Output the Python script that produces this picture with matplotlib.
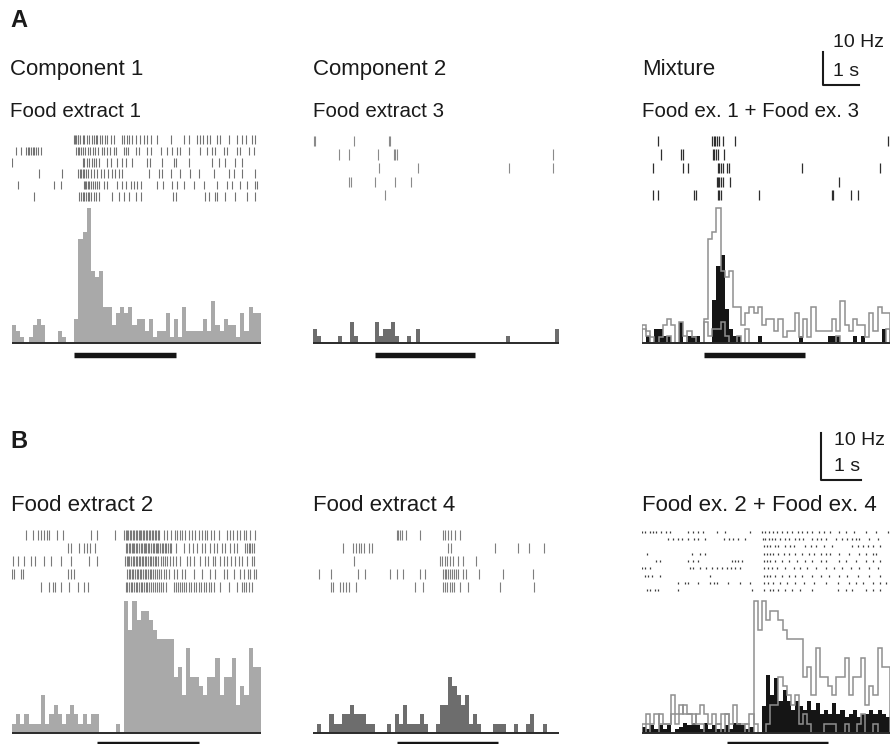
import numpy as np
import matplotlib
matplotlib.use('Agg')
import matplotlib.pyplot as plt
from matplotlib.lines import Line2D

plt.rcParams['font.family'] = ['Liberation Sans', 'DejaVu Sans']

W, H = 893, 744

# time windows (s) and stimulus epochs
T0_A, T0_B = -1.5, -2.0
WIN = 6.0
STIM_A = (0.0, 2.45)
STIM_B = (0.05, 2.5)

# PSTH firing rates (Hz), 60 bins of 0.1 s
psth_a1 = [5.4, 3.6, 1.8, 0, 1.8, 5.4, 7.2, 5.4, 0, 0,
           0, 3.6, 1.8, 0, 0, 7.2, 31.6, 33.6, 41.0, 21.8,
           20.0, 21.8, 10.9, 10.9, 5.4, 9.0, 10.9, 9.0, 10.9, 5.4,
           7.2, 7.2, 3.6, 7.2, 1.8, 3.6, 3.6, 9.0, 1.8, 7.2,
           1.8, 10.9, 3.6, 3.6, 3.6, 3.6, 7.2, 3.6, 12.7, 5.4,
           3.6, 7.2, 5.4, 5.4, 1.8, 9.0, 3.6, 10.9, 9.0, 9.0]
psth_a2 = [4.2, 2.1, 0, 0, 0, 0, 2.1, 0, 0, 6.4,
           2.1, 0, 0, 0, 0, 6.4, 2.1, 4.2, 4.2, 6.4,
           2.1, 0, 0, 2.1, 0, 4.2, 0, 0, 0, 0,
           0, 0, 0, 0, 0, 0, 0, 0, 0, 0,
           0, 0, 0, 0, 0, 0, 0, 2.1, 0, 0,
           0, 0, 0, 0, 0, 0, 0, 0, 0, 4.2]
psth_a3 = [0, 2.1, 0, 4.2, 4.2, 2.1, 2.1, 0, 0, 6.4,
           0, 2.1, 2.1, 2.1, 0, 0, 0, 12.9, 23.3, 26.6,
           10.4, 4.2, 2.1, 2.1, 0, 0, 0, 0, 2.1, 0,
           0, 0, 0, 0, 0, 0, 0, 0, 2.1, 0,
           0, 0, 0, 0, 0, 2.1, 2.1, 2.1, 0, 0,
           0, 2.1, 0, 2.1, 0, 0, 0, 0, 4.2, 0]
psth_b1 = [2, 4, 2, 4, 2, 2, 2, 8, 2, 4,
           6, 4, 2, 4, 6, 4, 2, 4, 2, 4,
           4, 0, 0, 0, 0, 2, 0, 28, 22, 28,
           24, 26, 26, 24, 22, 20, 20, 20, 20, 12,
           14, 8, 18, 12, 12, 10, 8, 12, 12, 16,
           8, 12, 12, 16, 6, 10, 8, 18, 14, 14]
psth_b2 = [0, 2, 0, 0, 4, 2, 2, 4, 4, 6,
           4, 4, 4, 2, 2, 0, 0, 0, 2, 0,
           4, 2, 6, 2, 2, 2, 4, 2, 0, 0,
           2, 6, 6, 12, 10, 8, 6, 8, 2, 4,
           2, 0, 0, 0, 2, 2, 2, 0, 0, 2,
           0, 0, 2, 4, 0, 0, 2, 0, 0, 0]
psth_b3 = [1.3, 0.9, 1.6, 0.9, 1.6, 0.9, 1.6, 0, 0.9, 1.3,
           2.1, 1.6, 2.1, 1.6, 0.9, 2.1, 0.9, 1.6, 0.9, 0.9,
           1.6, 0.9, 2.1, 2.1, 1.6, 0.9, 1.3, 0, 0, 5.7,
           12.4, 8.0, 11.6, 6.9, 9.2, 6.9, 4.8, 6.9, 5.7, 4.8,
           6.9, 4.8, 6.4, 4.1, 4.8, 4.1, 6.4, 4.1, 4.8, 3.4,
           4.1, 4.8, 3.4, 4.1, 4.1, 4.8, 4.1, 4.8, 4.1, 3.4]

# spike times (s), one list per trial
raster_a1 = [
    [0.00, 0.03, 0.05, 0.08, 0.10, 0.15, 0.20, 0.24, 0.31, 0.36, 0.42, 0.47, 0.52, 0.56, 0.63,
     0.68, 0.75, 0.80, 0.88, 0.95, 1.14, 1.20, 1.27, 1.32, 1.40, 1.48, 1.59, 1.67, 1.76, 1.84,
     1.99, 2.32, 2.64, 2.76, 2.95, 3.03, 3.11, 3.19, 3.27, 3.44, 3.52, 3.72, 3.91, 4.04, 4.15,
     4.28, 4.36],
    [-1.40, -1.28, -1.16, -1.12, -1.08, -1.04, -1.00, -0.96, -0.92, -0.88, -0.80, 0.04, 0.08,
     0.12, 0.16, 0.20, 0.26, 0.32, 0.39, 0.44, 0.50, 0.58, 0.66, 0.72, 0.80, 0.87, 0.95, 1.00,
     1.19, 1.24, 1.30, 1.48, 1.56, 1.75, 1.86, 2.08, 2.24, 2.36, 2.48, 2.56, 2.76, 3.04, 3.20,
     3.31, 3.40, 3.62, 3.68, 3.92, 4.00, 4.20, 4.32],
    [-1.50, 0.20, 0.24, 0.31, 0.35, 0.42, 0.47, 0.52, 0.60, 0.80, 0.88, 1.04, 1.16, 1.24, 1.38,
     1.76, 1.83, 2.12, 2.40, 2.44, 2.76, 3.32, 3.48, 3.64, 3.88, 4.04],
    [-0.84, -0.30, 0.10, 0.13, 0.16, 0.20, 0.24, 0.29, 0.34, 0.40, 0.47, 0.55, 0.64, 0.72, 0.82,
     0.90, 0.98, 1.08, 1.16, 1.80, 2.04, 2.12, 2.32, 2.56, 2.80, 3.00, 3.36, 3.72, 3.84, 4.04,
     4.36],
    [-1.36, -0.48, -0.32, 0.23, 0.26, 0.29, 0.32, 0.36, 0.40, 0.44, 0.50, 0.55, 0.60, 0.71, 0.79,
     1.04, 1.16, 1.24, 1.36, 1.43, 1.52, 1.60, 2.00, 2.15, 2.36, 2.48, 2.64, 2.88, 3.12, 3.44,
     3.68, 3.80, 4.00, 4.16, 4.36, 4.40],
    [-0.96, 0.12, 0.16, 0.20, 0.24, 0.28, 0.32, 0.36, 0.40, 0.47, 0.52, 0.60, 0.92, 1.08, 1.20,
     1.32, 1.48, 1.60, 2.39, 2.44, 3.16, 3.24, 3.40, 3.44, 3.64, 3.88, 4.16, 4.36],
]
raster_a2 = [
    [-1.48, -1.46, -0.49, 0.35, 0.37],
    [-0.87, -0.61, 0.09, 0.47, 0.51, 0.55, 4.35],
    [0.10, 1.05, 3.27, 4.35],
    [-0.61, -0.57, 0.02, 0.51, 0.89],
    [0.25],
]
raster_a3 = [
    [-1.11, 0.20, 0.23, 0.26, 0.31, 0.37, 0.45, 0.76, 4.45],
    [-1.03, -0.55, -0.51, 0.21, 0.24, 0.28, 0.33, 0.49],
    [-1.23, -0.51, -0.39, 0.33, 0.37, 0.41, 0.45, 0.55, 0.60, 2.36, 4.25],
    [0.31, 0.34, 0.37, 0.41, 0.45, 0.63, 3.27],
    [-1.23, -1.11, -0.23, -0.20, 0.33, 0.37, 0.41, 1.33, 3.09, 3.13, 3.56, 3.73],
]
raster_b1 = [
    [-1.66, -1.50, -1.38, -1.30, -1.22, -1.15, -1.10, -0.91, -0.78, -0.10, 0.05, 0.48,
     0.70, 0.74, 0.77, 0.80, 0.84, 0.87, 0.91, 0.94, 0.98, 1.01, 1.05, 1.08, 1.12, 1.15, 1.19,
     1.22, 1.26, 1.29, 1.33, 1.37, 1.40, 1.44, 1.48, 1.52, 1.55, 1.66, 1.74, 1.84, 1.92, 1.98,
     2.06, 2.10, 2.16, 2.26, 2.34, 2.42, 2.50, 2.58, 2.64, 2.70, 2.80, 2.86, 2.98, 3.18, 3.25,
     3.33, 3.41, 3.50, 3.58, 3.65, 3.74, 3.86],
    [-0.66, -0.59, -0.38, -0.27, -0.19, -0.11, 0.00, 0.74, 0.78, 0.81, 0.85, 0.88, 0.92, 0.95,
     0.99, 1.02, 1.06, 1.10, 1.13, 1.17, 1.20, 1.24, 1.28, 1.31, 1.35, 1.39, 1.42, 1.46, 1.50,
     1.53, 1.57, 1.61, 1.64, 1.68, 1.72, 1.76, 1.80, 1.84, 1.94, 2.14, 2.26, 2.37, 2.46, 2.58,
     2.66, 2.77, 2.86, 2.94, 3.06, 3.14, 3.25, 3.34, 3.42, 3.62, 3.66, 3.70, 3.74, 3.78, 3.82],
    [-1.98, -1.86, -1.70, -1.54, -1.44, -1.23, -1.06, -0.83, -0.59, -0.14, 0.06, 0.72, 0.76,
     0.80, 0.83, 0.87, 0.91, 0.94, 0.98, 1.02, 1.05, 1.09, 1.13, 1.16, 1.20, 1.24, 1.28, 1.32,
     1.36, 1.40, 1.44, 1.48, 1.53, 1.58, 1.63, 1.68, 1.74, 1.80, 1.88, 1.96, 2.04, 2.22, 2.29,
     2.38, 2.54, 2.66, 2.72, 2.85, 2.90, 3.02, 3.12, 3.18, 3.28, 3.38, 3.46, 3.54, 3.66, 3.78,
     3.82],
    [-2.00, -1.95, -1.79, -1.74, -0.66, -0.59, -0.51, 0.77, 0.81, 0.85, 0.88, 0.92, 0.96, 1.00,
     1.04, 1.08, 1.12, 1.16, 1.20, 1.24, 1.28, 1.32, 1.36, 1.40, 1.45, 1.50, 1.55, 1.60, 1.66,
     1.72, 1.78, 1.90, 1.98, 2.10, 2.16, 2.38, 2.58, 2.78, 2.90, 3.10, 3.18, 3.34, 3.50, 3.60,
     3.68, 3.74, 3.82, 3.89],
    [-1.30, -1.10, -1.02, -0.96, -0.83, -0.62, -0.42, -0.27, -0.16, 0.74, 0.78, 0.82, 0.86,
     0.90, 0.94, 0.98, 1.02, 1.06, 1.10, 1.14, 1.18, 1.22, 1.26, 1.30, 1.35, 1.40, 1.45, 1.50,
     1.55, 1.60, 1.65, 1.70, 1.90, 1.95, 2.00, 2.05, 2.10, 2.15, 2.20, 2.26, 2.32, 2.38, 2.44,
     2.50, 2.56, 2.62, 2.68, 2.74, 2.80, 2.86, 3.02, 3.22, 3.42, 3.54, 3.60, 3.65, 3.70, 3.78],
]
raster_b2 = [
    [0.04, 0.08, 0.12, 0.16, 0.28, 0.62, 1.17, 1.22, 1.29, 1.37, 1.46, 1.59],
    [-1.28, -1.03, -0.95, -0.87, -0.82, -0.75, -0.63, -0.57, 1.29, 1.37, 2.43, 3.00, 3.26, 3.64],
    [-1.00, 1.09, 1.15, 1.21, 1.27, 1.33, 1.41, 1.54, 1.66, 1.98],
    [-1.85, -1.57, -0.90, -0.73, -0.13, 0.04, 0.20, 0.60, 0.72, 1.17, 1.21, 1.25, 1.29, 1.33,
     1.38, 1.43, 1.48, 1.54, 1.66, 1.74, 2.06, 2.63, 3.36],
    [-1.57, -1.51, -1.34, -1.26, -1.20, -1.12, -0.94, 0.48, 0.68, 1.17, 1.21, 1.27, 1.33, 1.40,
     1.45, 1.58, 1.78, 2.55, 3.40],
]
raster_b3 = [
    [-1.99, -1.93, -1.81, -1.73, -1.65, -1.53, -1.41, -1.33, -0.88, -0.76, -0.64, -0.52, -0.19,
     0.01, 0.62, 0.90, 0.98, 1.08, 1.18, 1.26, 1.39, 1.51, 1.63, 1.77, 1.87, 2.00, 2.12, 2.28,
     2.40, 2.56, 2.77, 2.93, 3.14, 3.42, 3.67, 3.95],
    [-1.37, -1.25, -1.14, -1.04, -0.88, -0.74, -0.64, -0.48, -0.01, 0.11, 0.21, 0.32, 0.50,
     0.92, 0.98, 1.08, 1.14, 1.22, 1.34, 1.45, 1.55, 1.71, 1.79, 1.89, 2.12, 2.24, 2.32, 2.44,
     2.69, 2.85, 2.97, 3.09, 3.18, 3.26, 3.50, 3.71],
    [0.94, 1.02, 1.10, 1.22, 1.30, 1.47, 1.59, 1.67, 1.95, 2.08, 2.20, 2.40, 2.60, 3.09, 3.22,
     3.34, 3.46, 3.58, 3.75],
    [-1.89, -0.80, -0.60, -0.48, 0.94, 1.02, 1.10, 1.18, 1.30, 1.43, 1.55, 1.71, 1.87, 2.04,
     2.16, 2.32, 2.44, 2.56, 2.77, 3.01, 3.26, 3.42, 3.58, 3.67],
    [-1.65, -1.57, -0.88, -0.76, -0.64, 0.17, 0.25, 0.33, 0.43, 0.94, 1.02, 1.10, 1.22, 1.39,
     1.55, 1.75, 1.95, 2.12, 2.32, 2.44, 2.77, 2.93, 3.18, 3.42, 3.58, 3.75],
    [-1.99, -1.93, -1.81, -0.84, -0.76, -0.60, -0.44, -0.31, -0.19, -0.07, 0.05, 0.16, 0.25,
     0.37, 0.94, 1.06, 1.14, 1.26, 1.47, 1.67, 1.83, 2.00, 2.20, 2.44, 2.65, 2.85, 3.05, 3.26,
     3.50, 3.71],
    [-1.93, -1.85, -1.77, -1.57, -0.36, 0.94, 1.02, 1.10, 1.22, 1.39, 1.55, 1.71, 1.87, 2.12,
     2.32, 2.52, 2.77, 2.97, 3.22, 3.50, 3.75],
    [-1.13, -0.96, -0.88, -0.64, -0.36, -0.27, -0.19, 0.09, 0.37, 0.62, 0.94, 1.06, 1.18, 1.34,
     1.51, 1.71, 1.91, 2.16, 2.44, 2.73, 3.01, 3.18, 3.34, 3.58, 3.75, 3.91],
    [-1.89, -1.81, -1.69, -1.61, -1.13, 0.66, 0.94, 1.10, 1.18, 1.30, 1.47, 1.63, 1.83, 2.12,
     2.73, 2.93, 3.09, 3.42, 3.58, 3.75],
]

COLS = [(12, 261), (313, 559), (642, 890)]
LIGHT = '#a9a9a9'
DARK = '#6d6d6d'
BLACK = '#151515'
OUTLINE = '#8f8f8f'


def px_box(x0, y0, x1, y1):
    return [x0 / W, 1 - y1 / H, (x1 - x0) / W, (y1 - y0) / H]


def draw_raster(fig, col, y0, y1, t0, trials, color, length, lw):
    x0, x1 = COLS[col]
    ax = fig.add_axes(px_box(x0, y0, x1, y1))
    n = len(trials)
    ax.eventplot(trials, lineoffsets=np.arange(1, n + 1), linelengths=length,
                 colors=color, linewidths=lw)
    ax.set_xlim(t0, t0 + WIN)
    ax.set_ylim(n + 0.5, 0.5)
    ax.set_axis_off()
    return ax


def draw_psth(fig, col, base_y, t0, px_per_hz, stim, stim_gap, fills, outlines=()):
    x0, x1 = COLS[col]
    top = base_y - 165
    ax = fig.add_axes(px_box(x0, top, x1, base_y + 16))
    edges = t0 + 0.1 * np.arange(61)
    for vals, c in fills:
        ax.stairs(vals, edges, fill=True, color=c, lw=0)
    for vals in outlines:
        ax.stairs(vals, edges, baseline=0, color=OUTLINE, lw=1.1)
    ax.axhline(0, color='#2a2a2a', lw=1.4)
    ax.hlines(-stim_gap / px_per_hz, stim[0], stim[1], color=BLACK, lw=3.9, clip_on=False)
    ax.set_xlim(t0, t0 + WIN)
    ax.set_ylim(-16 / px_per_hz, 165 / px_per_hz)
    ax.set_axis_off()
    return ax


fig = plt.figure(figsize=(W / 100, H / 100), dpi=100)

# --- panel A ---
draw_raster(fig, 0, 134, 202, T0_A, raster_a1, '#727272', 0.75, 0.8)
draw_raster(fig, 1, 134, 202, T0_A, raster_a2, '#8a8a8a', 0.75, 0.8)
draw_raster(fig, 2, 134, 202, T0_A, raster_a3, '#2e2e2e', 0.75, 0.9)
PX_A = 3.3
draw_psth(fig, 0, 343, T0_A, PX_A, STIM_A, 12, [(psth_a1, LIGHT)])
draw_psth(fig, 1, 343, T0_A, PX_A, STIM_A, 12, [(psth_a2, DARK)])
draw_psth(fig, 2, 343, T0_A, PX_A, STIM_A, 12, [(psth_a3, BLACK)], [psth_a1, psth_a2])

# --- panel B ---
draw_raster(fig, 0, 528, 594, T0_B, raster_b1, '#7a7a7a', 0.75, 0.8)
draw_raster(fig, 1, 528, 594, T0_B, raster_b2, '#7e7e7e', 0.75, 0.8)
draw_raster(fig, 2, 528, 594, T0_B, raster_b3, '#3a3a3a', 0.3, 0.9)
PX_B = 4.7
draw_psth(fig, 0, 733, T0_B, PX_B, STIM_B, 11, [(psth_b1, LIGHT)])
draw_psth(fig, 1, 733, T0_B, PX_B, STIM_B, 11, [(psth_b2, DARK)])
draw_psth(fig, 2, 733, T0_B, PX_B, STIM_B, 11, [(psth_b3, BLACK)], [psth_b1, psth_b2])


def ftext(x, y, s, **kw):
    fig.text(x / W, 1 - y / H, s, ha='left', va='baseline', color='#1a1a1a', **kw)


ftext(10, 27, 'A', fontsize=17, fontweight='bold')
ftext(10, 448, 'B', fontsize=17, fontweight='bold')
for x, s in zip([10, 313, 642], ['Component 1', 'Component 2', 'Mixture']):
    ftext(x, 75, s, fontsize=16)
for x, s in zip([10, 313, 642], ['Food extract 1', 'Food extract 3', 'Food ex. 1 + Food ex. 3']):
    ftext(x, 117, s, fontsize=14.8)
for x, s in zip([11, 313, 642], ['Food extract 2', 'Food extract 4', 'Food ex. 2 + Food ex. 4']):
    ftext(x, 511, s, fontsize=16)

# scale bars
for (xv, ytop, ybot, xr, y_hz, y_s, dx) in [(823, 52, 85, 859, 47, 76, 10),
                                            (821, 433, 480, 861, 445, 471, 13)]:
    fig.add_artist(Line2D([xv / W, xv / W, xr / W],
                          [1 - ytop / H, 1 - ybot / H, 1 - ybot / H],
                          color='#1a1a1a', lw=1.5))
    ftext(xv + dx, y_hz, '10 Hz', fontsize=14)
    ftext(xv + dx, y_s, '1 s', fontsize=14)

fig.savefig('out.png', dpi=100)
